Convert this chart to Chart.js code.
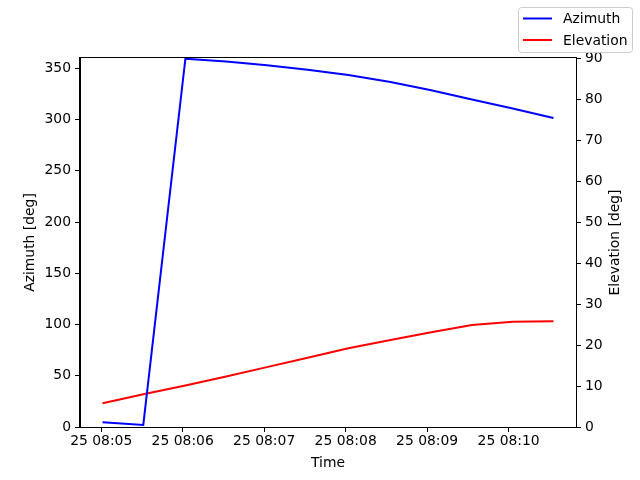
<!DOCTYPE html>
<html>
<head>
<meta charset="utf-8">
<script src="https://cdn.jsdelivr.net/npm/chart.js@4.4.0/dist/chart.umd.min.js"></script>
<style>
  html, body { margin: 0; padding: 0; background: #fff; }
  canvas { display: block; }
</style>
</head>
<body>
<canvas id="grafico" width="640" height="480"></canvas>
<script>
// dados
const day = 25;
const times = ['08:05:01', '08:05:31', '08:06:02', '08:06:32', '08:07:02', '08:07:32',
               '08:08:02', '08:08:33', '08:09:03', '08:09:33', '08:10:03', '08:10:33'];
const azimuth = [4.6, 2.0, 359.3, 356.5, 353.0, 348.5, 343.5, 336.5, 328.5, 319.5, 310.8, 301.5];
const elevation = [5.8, 8.0, 10.1, 12.3, 14.6, 16.9, 19.2, 21.2, 23.1, 24.9, 25.7, 25.8];
const timeTicks = ['08:05', '08:06', '08:07', '08:08', '08:09', '08:10'];
const azimuthTicks = [0, 50, 100, 150, 200, 250, 300, 350];
const elevationTicks = [0, 10, 20, 30, 40, 50, 60, 70, 80, 90];

const toSec = (s) => {
    const p = s.split(':').map(Number);
    return p[0] * 3600 + p[1] * 60 + (p[2] || 0);
};
const pad2 = (n) => String(n).padStart(2, '0');
const fmtTime = (v) => {
    const h = Math.floor(v / 3600), m = Math.round((v % 3600) / 60);
    return day + ' ' + pad2(h) + ':' + pad2(m);
};

const xs = times.map(toSec);
const xMargin = (xs[xs.length - 1] - xs[0]) * 0.05;
const fonte = "13.9px 'DejaVu Sans', sans-serif";

Chart.defaults.font.family = "'DejaVu Sans', sans-serif";
Chart.defaults.font.size = 13.9;
Chart.defaults.color = '#000';

const fixedTicks = (list) => (scale) => {
    scale.ticks = list.map(v => ({ value: v }));
};

// moldura do eixo, título do eixo direito (lido de baixo para cima) e legenda
const molduraLegenda = {
    id: 'molduraLegenda',
    afterDraw(chart) {
        const ctx = chart.ctx;
        const a = chart.chartArea;
        ctx.save();
        ctx.strokeStyle = '#000';
        ctx.lineWidth = 1;
        ctx.strokeRect(Math.round(a.left) - 0.5, Math.round(a.top) - 0.5,
                       Math.round(a.right - a.left) + 1, Math.round(a.bottom - a.top) + 1);

        ctx.font = fonte;
        ctx.fillStyle = '#000';
        ctx.save();
        ctx.translate(615, (a.top + a.bottom) / 2);
        ctx.rotate(-Math.PI / 2);
        ctx.textAlign = 'center';
        ctx.textBaseline = 'middle';
        ctx.fillText('Elevation [deg]', 0, 0);
        ctx.restore();

        ctx.beginPath();
        ctx.roundRect(518.5, 7.5, 114, 45, 3);
        ctx.fillStyle = 'rgba(255,255,255,0.8)';
        ctx.fill();
        ctx.strokeStyle = '#cccccc';
        ctx.stroke();

        ctx.textBaseline = 'middle';
        ctx.fillStyle = '#000';
        chart.data.datasets.forEach((ds, i) => {
            const y = 18.5 + i * 21.5;
            ctx.beginPath();
            ctx.moveTo(523, y);
            ctx.lineTo(552, y);
            ctx.strokeStyle = ds.borderColor;
            ctx.lineWidth = 2;
            ctx.stroke();
            ctx.fillText(ds.label, 563, y + 1);
        });
        ctx.restore();
    }
};

const eixo = {
    grid: { display: true, drawOnChartArea: false, drawTicks: true, tickLength: 5, color: '#000' },
    border: { display: true, color: '#000', width: 1 }
};

new Chart(document.getElementById('grafico'), {
    type: 'line',
    data: {
        datasets: [
            {
                label: 'Azimuth',
                data: xs.map((x, i) => ({ x: x, y: azimuth[i] })),
                borderColor: '#0000ff',
                borderWidth: 2,
                pointRadius: 0,
                tension: 0,
                yAxisID: 'yAz'
            },
            {
                label: 'Elevation',
                data: xs.map((x, i) => ({ x: x, y: elevation[i] })),
                borderColor: '#ff0000',
                borderWidth: 2,
                pointRadius: 0,
                tension: 0,
                yAxisID: 'yEl'
            }
        ]
    },
    options: {
        responsive: false,
        animation: false,
        devicePixelRatio: 1,
        layout: { padding: { top: 58, left: 0, right: 0, bottom: 0 } },
        plugins: { legend: { display: false }, tooltip: { enabled: false } },
        scales: {
            x: {
                type: 'linear',
                min: xs[0] - xMargin,
                max: xs[xs.length - 1] + xMargin,
                ...eixo,
                afterBuildTicks: fixedTicks(timeTicks.map(toSec)),
                afterFit: (s) => { s.height = 53; },
                ticks: { padding: 1, maxRotation: 0, autoSkip: false, callback: (v) => fmtTime(v) },
                title: { display: true, text: 'Time', padding: { top: 0, bottom: 8 } }
            },
            yAz: {
                position: 'left',
                min: 0,
                max: 360,
                ...eixo,
                afterBuildTicks: fixedTicks(azimuthTicks),
                afterFit: (s) => { s.width = 80; },
                ticks: { padding: 4 },
                title: { display: true, text: 'Azimuth [deg]', padding: { top: 22, bottom: 0 } }
            },
            yEl: {
                position: 'right',
                min: 0,
                max: 90,
                ...eixo,
                afterBuildTicks: fixedTicks(elevationTicks),
                afterFit: (s) => { s.width = 64; },
                ticks: { padding: 4 },
                title: { display: false }
            }
        }
    },
    plugins: [molduraLegenda]
});
</script>
</body>
</html>
